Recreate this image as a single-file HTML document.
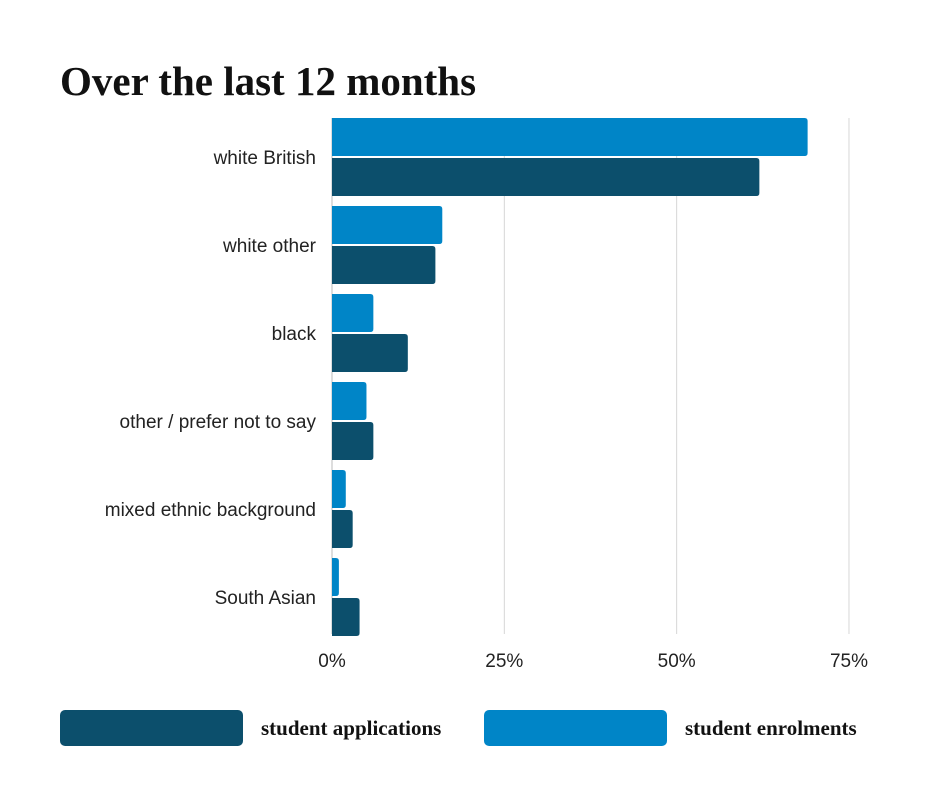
<!DOCTYPE html>
<html><head><meta charset="utf-8"><style>
body{margin:0;background:#fff;width:940px;height:788px;overflow:hidden}
svg{display:block}
</style></head><body>
<svg id="chart" width="940" height="788">
<text x="60" y="95" font-family="'Liberation Serif',serif" font-weight="bold" font-size="41" fill="#111">Over the last 12 months</text>
<g id="grid"></g><g id="bars"></g><g id="labels"></g>
<g>
<rect x="60" y="710" width="183" height="36" rx="5" fill="#0c4f6c"/>
<text x="261" y="735" font-family="'Liberation Serif',serif" font-weight="bold" font-size="21" fill="#111">student applications</text>
<rect x="484" y="710" width="183" height="36" rx="5" fill="#0085c7"/>
<text x="685" y="735" font-family="'Liberation Serif',serif" font-weight="bold" font-size="21" fill="#111">student enrolments</text>
</g>
</svg>
<script>
const categories=["white British","white other","black","other / prefer not to say","mixed ethnic background","South Asian"];
const enrolments=[69,16,6,5,2,1];
const applications=[62,15,11,6,3,4];
const ticks=[0,25,50,75];
const tickLabels=["0%","25%","50%","75%"];
const NS="http://www.w3.org/2000/svg";
const x0=332,pxPer=6.893,top0=118,pitch=88,bh=38;
const xs=v=>x0+v*pxPer;
function mk(t,a,p){const e=document.createElementNS(NS,t);for(const k in a)e.setAttribute(k,a[k]);p.appendChild(e);return e;}
const grid=document.getElementById('grid'),bars=document.getElementById('bars'),labels=document.getElementById('labels');
ticks.forEach((t,i)=>{
 const l=mk('line',{x1:xs(t),x2:xs(t),y1:118,y2:634,stroke:t===0?'#bbb':'#d6d6d6','stroke-width':1},grid);
 
 
 const tx=mk('text',{x:xs(t),y:667,'text-anchor':'middle','font-family':"'Liberation Sans',sans-serif",'font-size':19,fill:'#222'},grid);
 tx.textContent=tickLabels[i];
 
 
});
function bar(v,y,c){
 const w=xs(v)-x0,r=Math.min(3,w);
 return mk('path',{d:`M${x0},${y}H${x0+w-r}Q${x0+w},${y} ${x0+w},${y+r}V${y+bh-r}Q${x0+w},${y+bh} ${x0+w-r},${y+bh}H${x0}Z`,fill:c},bars);
}
categories.forEach((c,i)=>{
 const y=top0+i*pitch;
 const b1=bar(enrolments[i],y,'#0085c7');
 
 
 const b2=bar(applications[i],y+40,'#0c4f6c');
 
 
 const t=mk('text',{x:316,y:y+46,'text-anchor':'end','font-family':"'Liberation Sans',sans-serif",'font-size':19,fill:'#222'},labels);
 t.textContent=c;
 
 
});
</script>
</body></html>
